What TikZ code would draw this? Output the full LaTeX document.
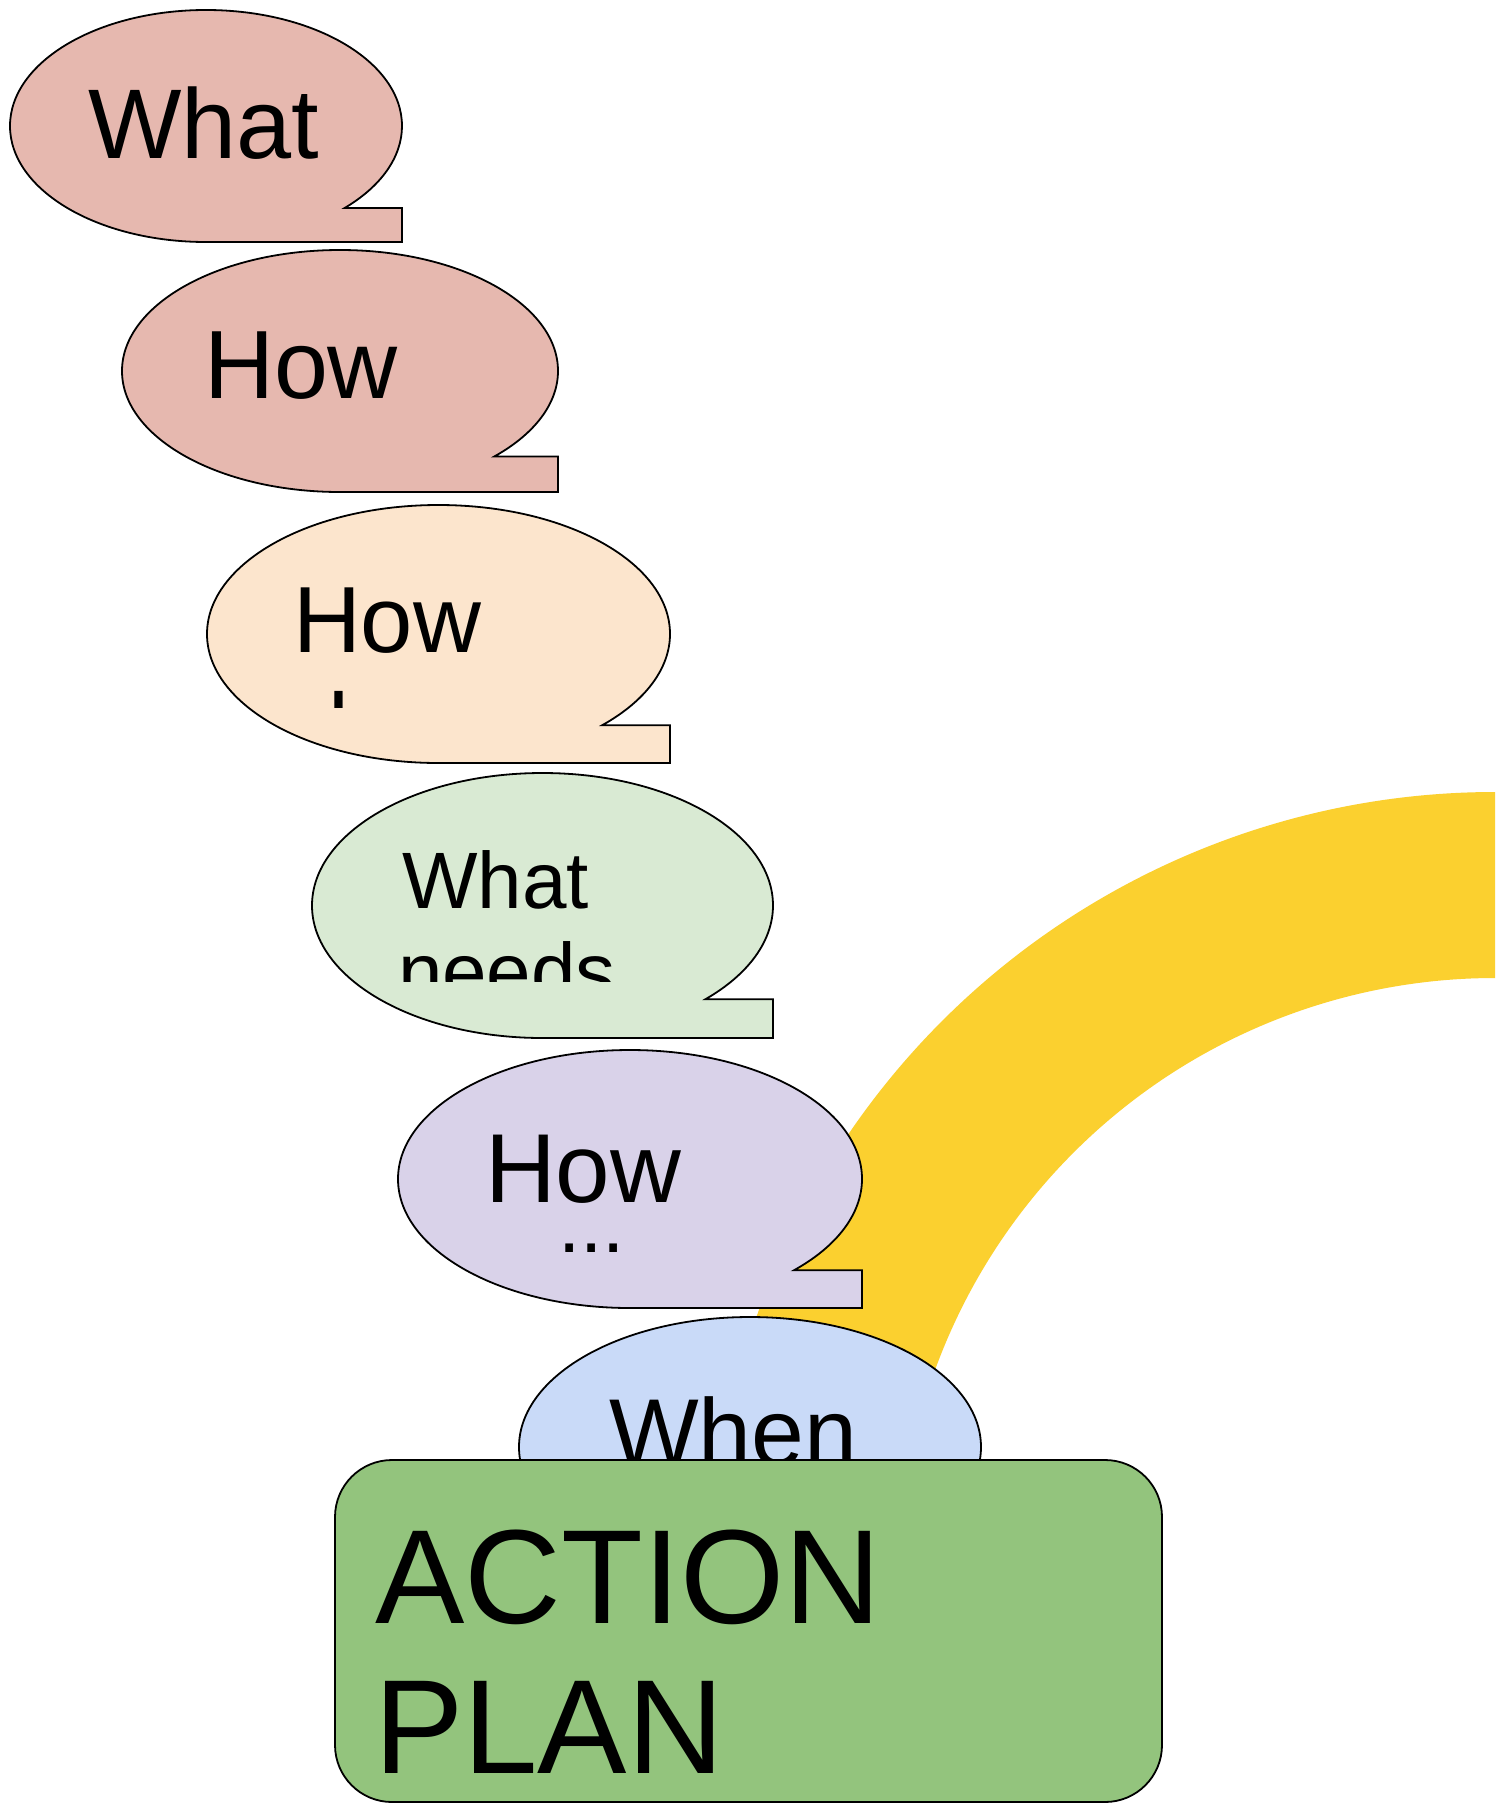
\documentclass[tikz,border=0pt]{standalone}
\usepackage{fontspec}
\setmainfont{Liberation Sans}
\definecolor{pinkb}{HTML}{E6B8AF}
\definecolor{peachb}{HTML}{FCE5CD}
\definecolor{greenb}{HTML}{D9EAD3}
\definecolor{lavb}{HTML}{D9D2E9}
\definecolor{blueb}{HTML}{C9DAF8}
\definecolor{boxgreen}{HTML}{93C47D}
\definecolor{arcyellow}{RGB}{251,208,47}
\newcommand{\speechbubble}[5]{%
  \path[bubble,#5] (#1,{-(#2)-(#4)})
    arc[start angle=270,end angle=-45,x radius=#3pt,y radius=#4pt]
    -- ({#1+#3},{-(#2)-0.70711*(#4)})
    -- ({#1+#3},{-(#2)-(#4)}) -- cycle;}
\tikzset{
  bubble/.style={draw=black, line width=1.8pt},
  lbl/.style={inner sep=0pt, outer sep=0pt, anchor=base west, text=black},
  actionbox/.style={draw=black, line width=1.8pt, fill=boxgreen, rounded corners=57pt}
}
\begin{document}
\begin{tikzpicture}[x=1pt,y=1pt]
\useasboundingbox (0,0) rectangle (1505,-1804);
\fill[white] (0,0) rectangle (1505,-1804);
% yellow arc
\coordinate (C) at (1495,-1574);
\fill[arcyellow] ([shift={(C)}]90:782) arc[start angle=90,end angle=195,radius=782pt]
  -- ([shift={(C)}]195:596) arc[start angle=195,end angle=90,radius=596pt] -- cycle;
% bubble 1
\speechbubble{206}{126}{196}{116}{fill=pinkb}
\node[lbl,font=\fontsize{99}{110}\selectfont] (what1) at (88,-158) {What};
% bubble 2
\speechbubble{340}{371}{218}{121}{fill=pinkb}
\node[lbl,font=\fontsize{97}{110}\selectfont] (how1) at (204,-398) {How};
% bubble 3
\speechbubble{438.5}{634}{231.5}{129}{fill=peachb}
\begin{scope}
\clip (207,-505) rectangle (670,-707);
\node[lbl,font=\fontsize{94}{108}\selectfont] (how2) at (293,-652) {How};
\node[lbl,font=\fontsize{94}{108}\selectfont] (long) at (328,-759) {long};
\end{scope}
% bubble 4
\speechbubble{542.5}{905.5}{230.5}{132.5}{fill=greenb}
\begin{scope}
\clip (312,-773) rectangle (773,-981);
\node[lbl,font=\fontsize{80}{90}\selectfont] (what2) at (402,-908) {What};
\node[lbl,font=\fontsize{80}{90}\selectfont] (needs) at (398,-999) {needs};
\end{scope}
% bubble 5
\speechbubble{630}{1179}{232}{129}{fill=lavb}
\begin{scope}
\clip (398,-1050) rectangle (862,-1251);
\node[lbl,font=\fontsize{98}{110}\selectfont] (how3) at (485,-1202) {How};
\node[lbl,font=\fontsize{80}{90}\selectfont] (dots) at (558,-1252) {...};
\end{scope}
% bubble 6
\speechbubble{750}{1447}{231}{130}{fill=blueb}
\node[lbl,font=\fontsize{95}{108}\selectfont] (when) at (609,-1465) {When};
% action plan box
\path[actionbox] (335,-1460) rectangle (1162,-1802);
\node[lbl,font=\fontsize{134}{150}\selectfont] (action) at (375,-1623) {ACTION};
\node[lbl,font=\fontsize{134}{150}\selectfont] (plan) at (374,-1773) {PLAN};
\end{tikzpicture}
\end{document}
